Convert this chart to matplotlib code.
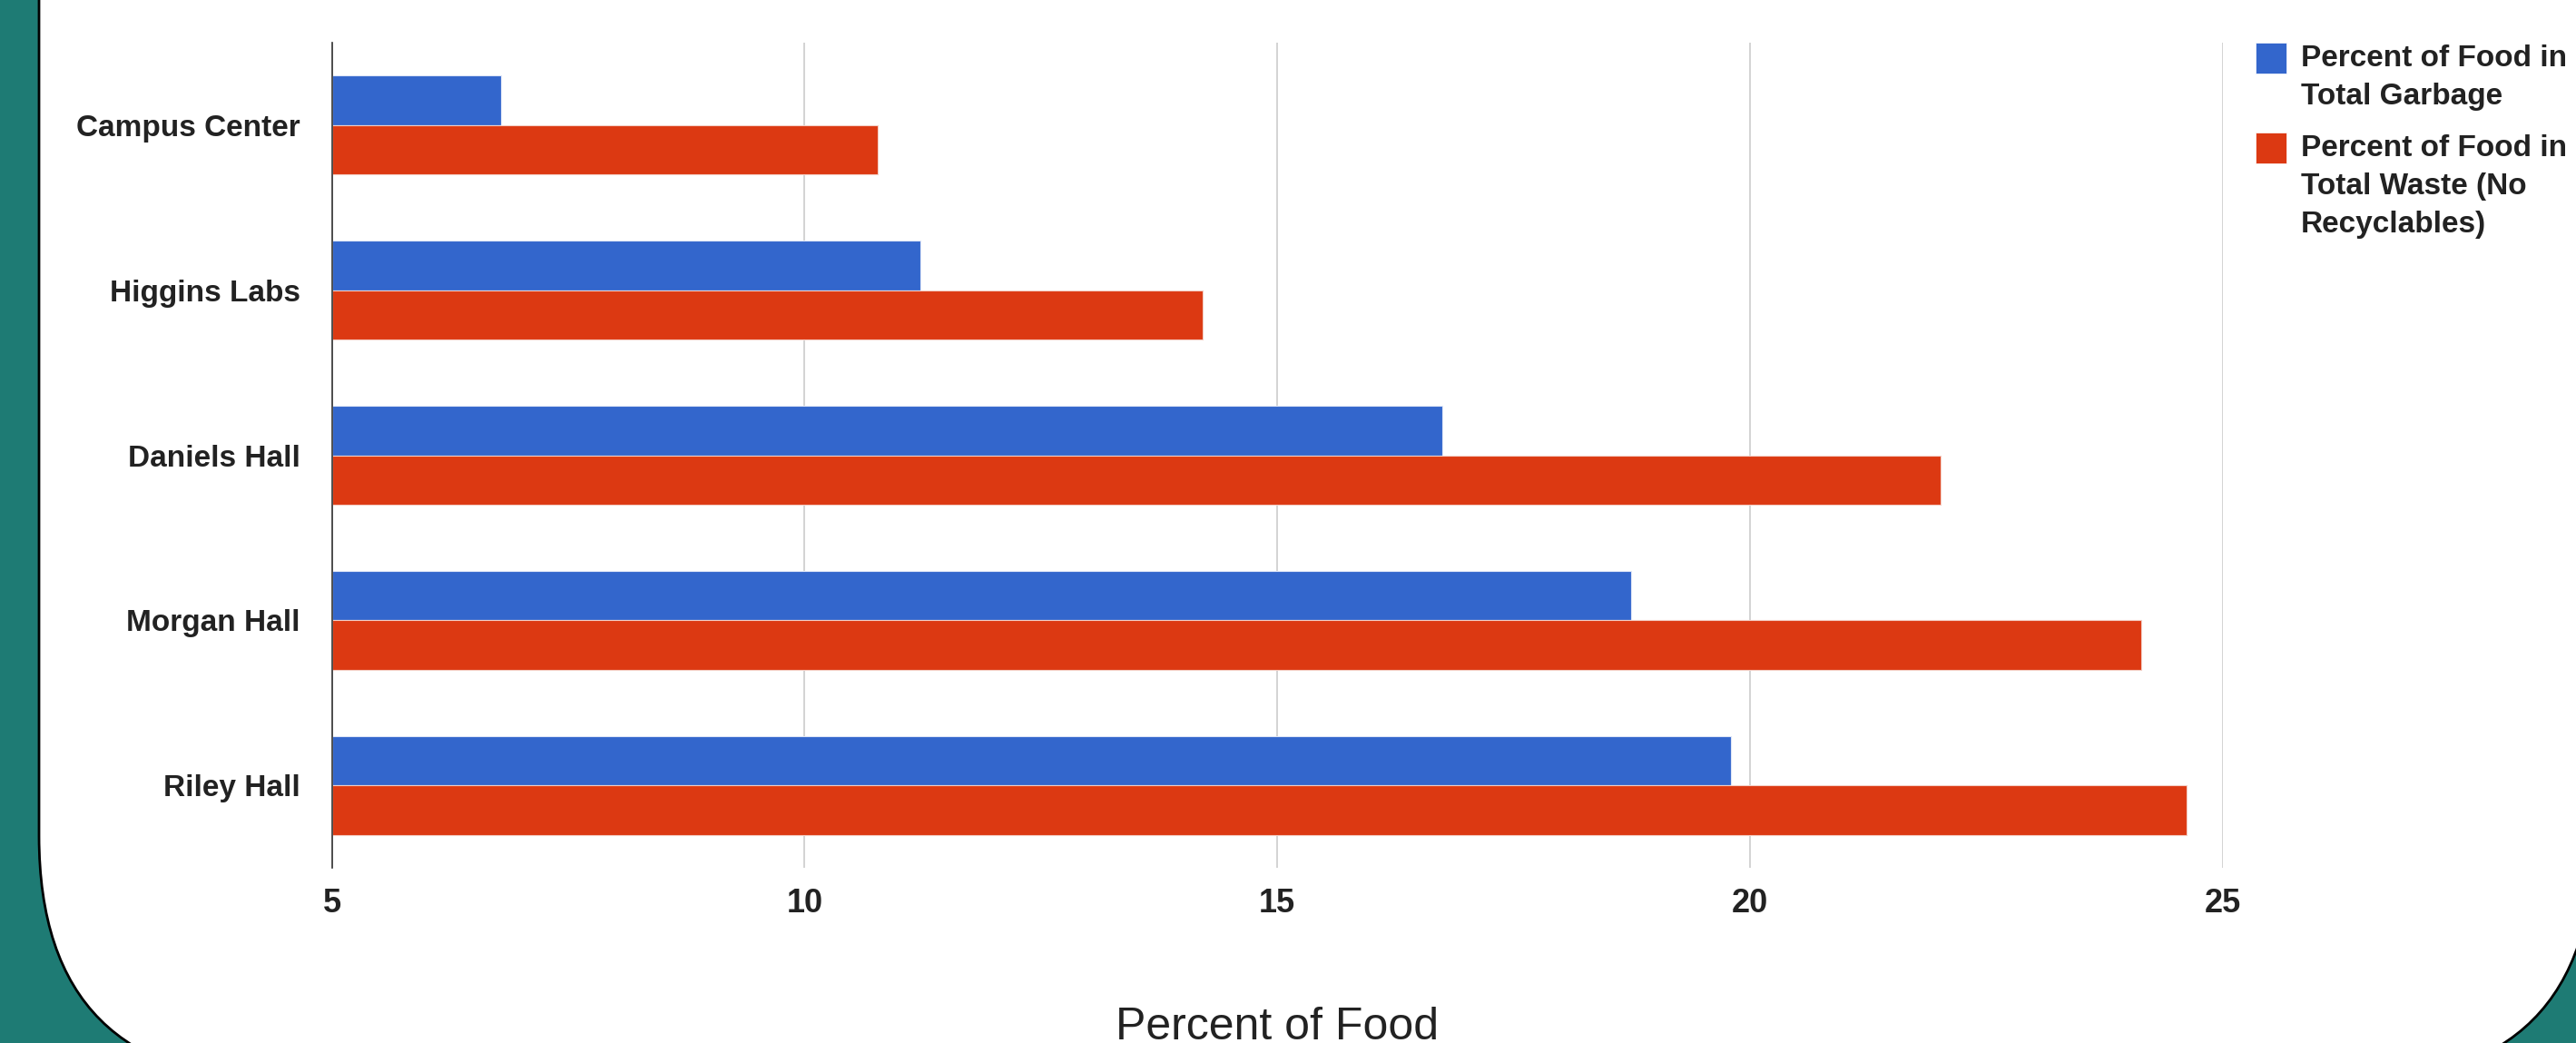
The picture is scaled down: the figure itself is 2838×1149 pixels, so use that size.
import matplotlib.pyplot as plt
from matplotlib.patches import FancyBboxPatch, Rectangle

plt.rcParams['font.family'] = ['Liberation Sans', 'DejaVu Sans']

buildings = ['Campus Center', 'Higgins Labs', 'Daniels Hall', 'Morgan Hall', 'Riley Hall']
garbage = [6.79, 11.22, 16.74, 18.74, 19.80]
waste = [10.77, 14.21, 22.01, 24.14, 24.62]
series_names = ['Percent of Food in\nTotal Garbage',
                'Percent of Food in\nTotal Waste (No\nRecyclables)']
xticks = [5, 10, 15, 20, 25]

blue = '#3366cc'
red = '#dc3912'
txt = '#222222'
W, H = 2838, 1149

fig = plt.figure(figsize=(W / 100, H / 100), dpi=100, facecolor='#1e7b74')

# background card, in pixel coordinates
bg = fig.add_axes([0, 0, 1, 1])
bg.set_xlim(0, W)
bg.set_ylim(H, 0)
bg.axis('off')
bg.add_patch(FancyBboxPatch((43, -500), 2815, 1691,
                            boxstyle='round,pad=0,rounding_size=270',
                            fc='white', ec='black', lw=2))

# legend drawn by hand
for i, (name, col) in enumerate(zip(series_names, [blue, red])):
    y0 = 47 + i * 99
    bg.add_patch(Rectangle((2485, y0), 34, 34, fc=col, ec='white', lw=0.5))
    bg.text(2535, y0 + 2, name, fontsize=24, fontweight='bold', color=txt,
            va='top', ha='left', linespacing=1.45)

left, right, top, bottom = 365.6, 2449, 47, 956
ax = fig.add_axes([left / W, 1 - bottom / H, (right - left) / W, (bottom - top) / H])
ax.set_facecolor('none')

ypos = list(range(len(buildings)))
h = 0.3
ax.barh([y - h / 2 for y in ypos], [g - 5 for g in garbage], left=5, height=h,
        color=blue, edgecolor='#dfe6f7', linewidth=0.8, zorder=3)
ax.barh([y + h / 2 for y in ypos], [w - 5 for w in waste], left=5, height=h,
        color=red, edgecolor='#f4cfc6', linewidth=0.8, zorder=3)

ax.set_xlim(5, 25)
ax.set_ylim(len(buildings) - 0.5, -0.5)
ax.set_xticks(xticks)
ax.set_yticks(ypos)
ax.set_yticklabels(buildings)
ax.grid(axis='x', color='#cccccc', lw=1.2, zorder=0)
ax.tick_params(length=0)
ax.tick_params(axis='x', pad=16, labelsize=26, labelcolor=txt)
ax.tick_params(axis='y', pad=25, labelsize=24, labelcolor=txt)
for lab in ax.get_xticklabels() + ax.get_yticklabels():
    lab.set_fontweight('bold')
for s in ['top', 'right', 'bottom']:
    ax.spines[s].set_visible(False)
ax.spines['left'].set_color('#333333')
ax.spines['left'].set_linewidth(1.2)
ax.spines['left'].set_zorder(4)

bg.text((left + right) / 2, 1145, 'Percent of Food', fontsize=36, color=txt,
        ha='center', va='baseline')

fig.savefig('out.png', dpi=100, facecolor=fig.get_facecolor())
